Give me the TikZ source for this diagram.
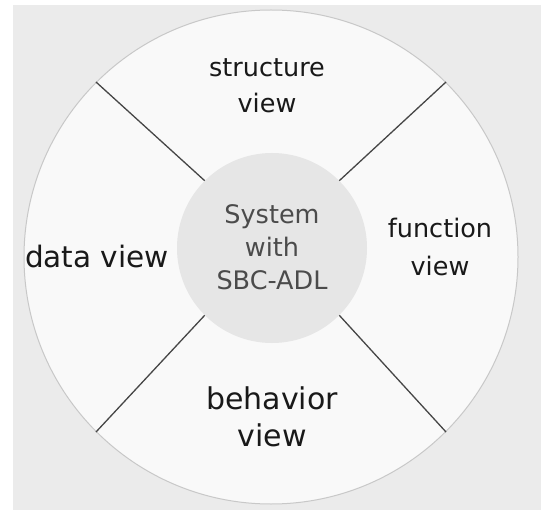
\documentclass[tikz,border=0pt]{standalone}
\usepackage{fontspec}
\setmainfont{DejaVu Sans}
\usetikzlibrary{positioning}
\definecolor{backgray}{RGB}{235,235,235}
\definecolor{discfill}{RGB}{249,249,249}
\definecolor{discline}{RGB}{200,200,200}
\definecolor{corefill}{RGB}{230,230,230}
\definecolor{splitline}{RGB}{70,70,70}
\definecolor{coretext}{RGB}{75,75,75}
\definecolor{viewtext}{RGB}{25,25,25}

\tikzset{
  viewlabel/.style={text=viewtext, align=center, inner sep=0pt},
  splitter/.style={splitline, line width=1.3pt}
}

\begin{document}
\begin{tikzpicture}[x=1pt, y=-1pt]
  \useasboundingbox (0,0) rectangle (541,513);
  \fill[white] (0,0) rectangle (541,513);
  \fill[backgray] (13,5) rectangle (541,510);

  \node[circle, draw=discline, fill=discfill, line width=1pt,
        minimum size=494pt, inner sep=0pt] (disc) at (271,257) {};
  \node[circle, fill=corefill, minimum size=190pt, inner sep=0pt] (core) at (272,248) {};

  \draw[splitter] (core.135) -- (disc.135);
  \draw[splitter] (core.45) -- (disc.45);
  \draw[splitter] (core.225) -- (disc.225);
  \draw[splitter] (core.315) -- (disc.315);

  \node[viewlabel, text=coretext, font=\fontsize{25.5}{33}\selectfont] (system) at (272,247)
    {System\\with\\SBC-ADL};
  \node[viewlabel, font=\fontsize{25.5}{36}\selectfont] (structure) at (267,86)
    {structure\\view};
  \node[viewlabel, font=\fontsize{25.5}{38}\selectfont] (function) at (440,247)
    {function\\view};
  \node[viewlabel, font=\fontsize{29.5}{36}\selectfont] (data) at (97,257)
    {data view};
  \node[viewlabel, font=\fontsize{30}{37}\selectfont] (behavior) at (272,417)
    {behavior\\view};
\end{tikzpicture}
\end{document}
